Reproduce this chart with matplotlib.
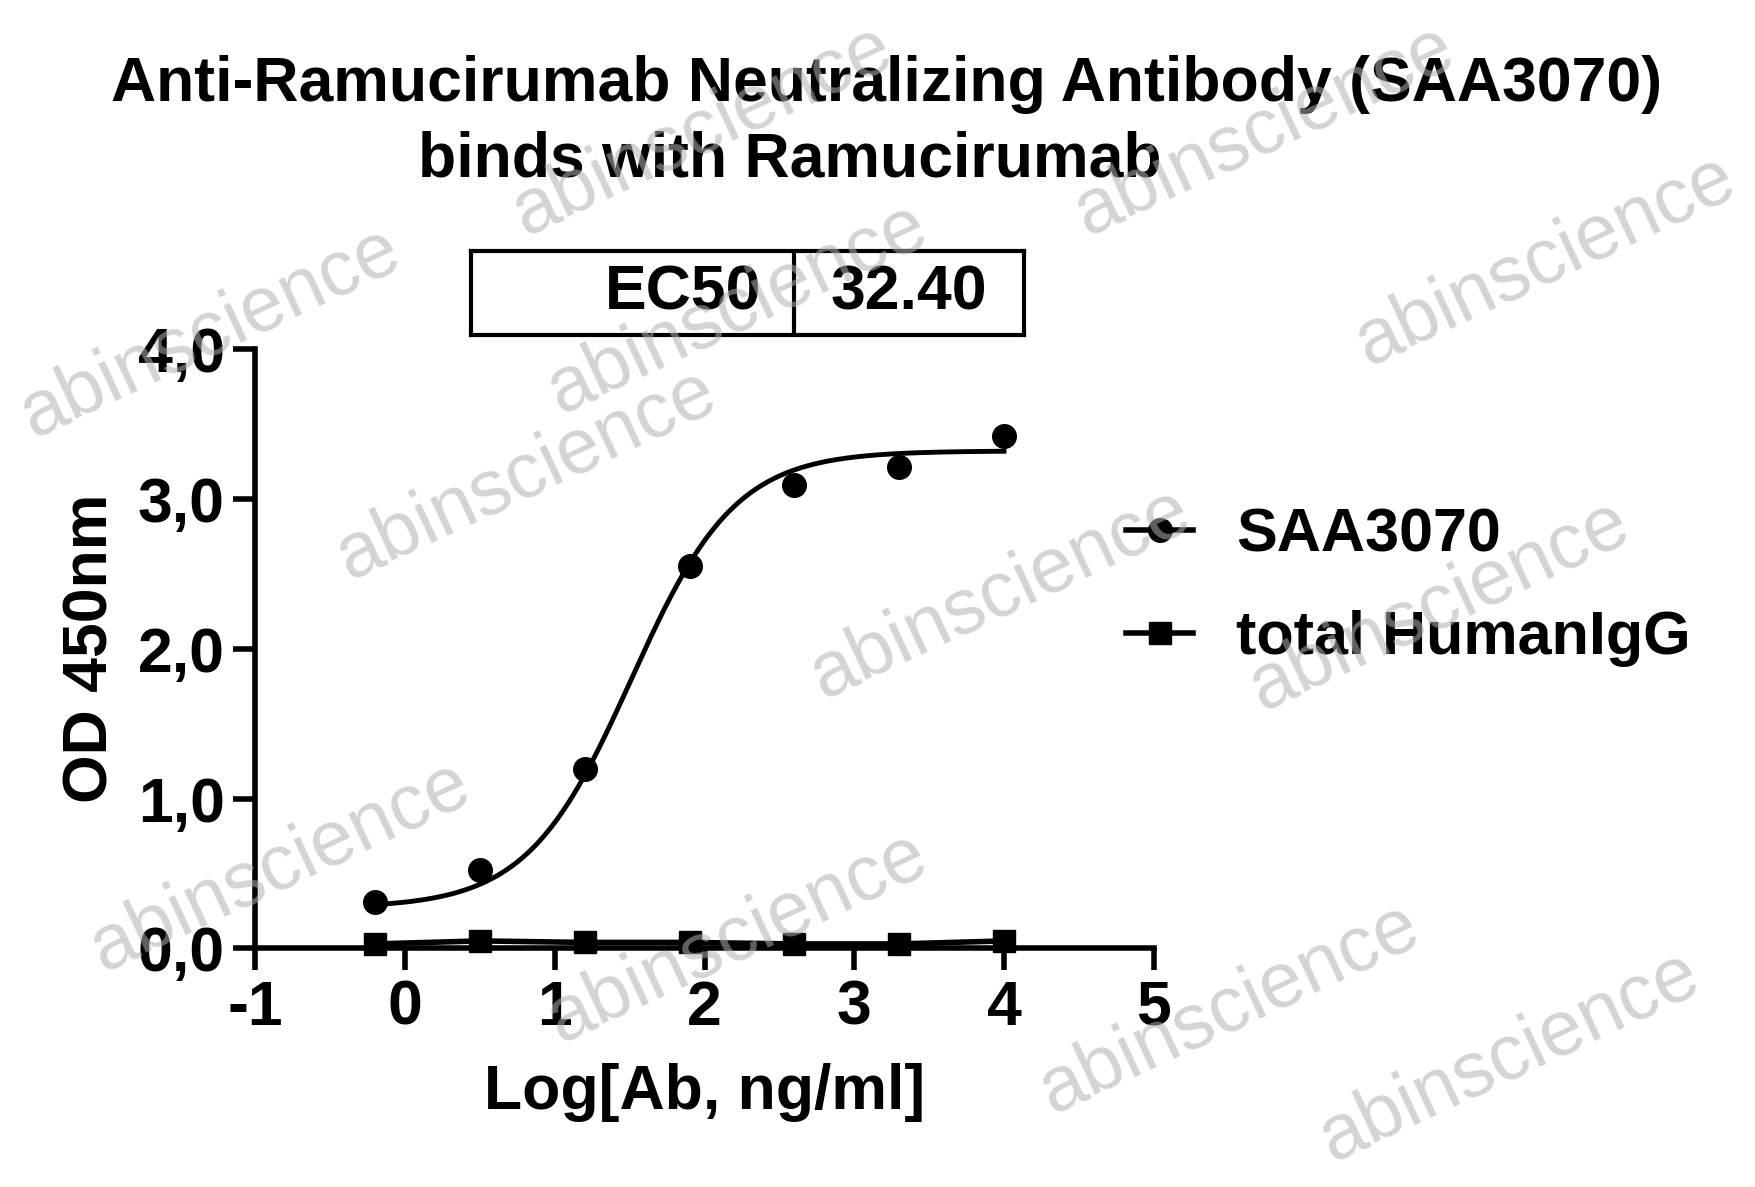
import numpy as np
import matplotlib
matplotlib.use("Agg")
import matplotlib.pyplot as plt
from matplotlib.ticker import FuncFormatter, MultipleLocator
from matplotlib.lines import Line2D

plt.rcParams['font.family'] = ['Liberation Sans', 'DejaVu Sans']
plt.rcParams['font.weight'] = 'bold'

log_conc = [-0.2, 0.5, 1.2, 1.9, 2.6, 3.3, 4.0]
saa3070 = [0.31, 0.52, 1.20, 2.55, 3.09, 3.21, 3.42]
human_igg = [0.03, 0.05, 0.04, 0.04, 0.03, 0.03, 0.05]
# 4PL fit parameters
fit_bottom, fit_top, fit_logec50, fit_hill = 0.27, 3.32, np.log10(32.40), 1.25
ec50_label = "32.40"

fig = plt.figure(figsize=(17.56, 11.87), dpi=100)
ax = fig.add_axes([0.1454, 0.201, 0.5116, 0.505])
xs = np.linspace(min(log_conc), max(log_conc), 300)
ys = fit_bottom + (fit_top - fit_bottom) / (1 + 10 ** ((fit_logec50 - xs) * fit_hill))
ax.plot(xs, ys, color='black', lw=3.5)
ax.plot(log_conc, saa3070, 'o', color='black', ms=17, clip_on=False)
ax.plot(log_conc, human_igg, 's-', color='black', ms=16, lw=4, clip_on=False)
ax.set_xlim(-1, 5)
ax.set_ylim(0, 4)
ax.xaxis.set_major_locator(MultipleLocator(1))
ax.yaxis.set_major_locator(MultipleLocator(1))
ax.yaxis.set_major_formatter(FuncFormatter(lambda v, p: f"{v:.1f}".replace('.', ',')))
ax.xaxis.set_major_formatter(FuncFormatter(lambda v, p: f"{int(v)}"))
for s in ['top', 'right']:
    ax.spines[s].set_visible(False)
for s in ['left', 'bottom']:
    ax.spines[s].set_linewidth(4)
ax.tick_params(which='major', length=16, width=4, labelsize=45, pad=6)
ax.set_xlabel("Log[Ab, ng/ml]", fontsize=45, fontweight='bold', labelpad=18)
ax.set_ylabel("OD 450nm", fontsize=45, fontweight='bold', labelpad=12)

fig.text(0.505, 0.929, "Anti-Ramucirumab Neutralizing Antibody (SAA3070)",
         ha='center', va='center', fontsize=45, fontweight='bold')
fig.text(0.45, 0.865, "binds with Ramucirumab",
         ha='center', va='center', fontsize=45, fontweight='bold')

# EC50 table
tab = fig.add_axes([421/1568, 1-299/1060, (914-421)/1568, 75/1060])
tab.set_xlim(0, 1); tab.set_ylim(0, 1)
tab.set_xticks([]); tab.set_yticks([])
for s in tab.spines.values():
    s.set_linewidth(3)
div = (709-421)/(914-421)
tab.axvline(div, color='black', lw=3)
tab.text(div - 0.06, 0.5, "EC50", ha='right', va='center', fontsize=45, fontweight='bold')
tab.text((div + 1) / 2, 0.5, ec50_label, ha='center', va='center', fontsize=45, fontweight='bold')

# legend
h = [Line2D([], [], color='black', marker='o', ms=17, lw=4),
     Line2D([], [], color='black', marker='s', ms=16, lw=4)]
fig.legend(h, ["SAA3070", "total HumanIgG"], loc='center left', bbox_to_anchor=(0.61, 0.505),
           frameon=False, handlelength=1.1, handletextpad=0.7, labelspacing=0.75,
           prop={'weight': 'bold', 'size': 44})

# watermarks
wm = [(0.40, 0.89), (0.72, 0.89), (0.88, 0.78), (0.12, 0.72), (0.30, 0.60),
      (0.57, 0.50), (0.82, 0.49), (0.16, 0.27), (0.42, 0.21), (0.70, 0.15),
      (0.86, 0.11), (0.42, 0.74)]
for x, y in wm:
    fig.text(x, y, "abinscience", fontsize=56, color='#b0b0b0', alpha=0.55, rotation=25,
             ha='center', va='center', fontweight='normal', zorder=10)

fig.savefig("out.png", dpi=100)
